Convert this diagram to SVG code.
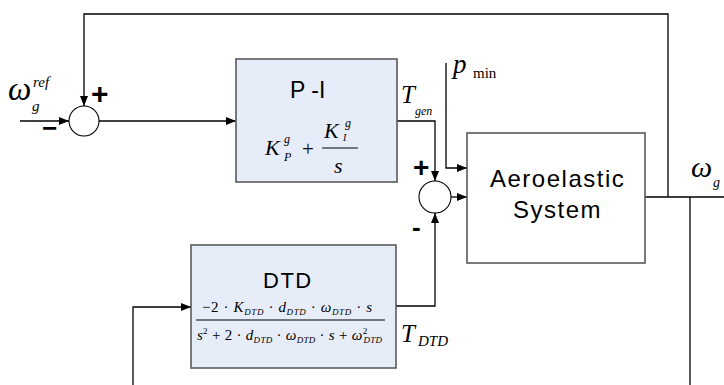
<svg xmlns="http://www.w3.org/2000/svg" width="724" height="385" viewBox="0 0 724 385">
<style>
.box{fill:#e7edf8;stroke:#5a5a5a;stroke-width:1.6}
.wbox{fill:#ffffff;stroke:#5a5a5a;stroke-width:1.6}
.sum{fill:#ffffff;stroke:#000;stroke-width:1.1}
.ln{fill:none;stroke:#000;stroke-width:1.3}
.sans{font-family:"Liberation Sans",Arial,sans-serif;fill:#000}
.ser{font-family:"Liberation Serif","Times New Roman",serif;fill:#000}
.it{font-style:italic}
.sign{font-family:"Liberation Sans",Arial,sans-serif;font-weight:bold;fill:#000}
</style>
<defs>
<marker id="ah" markerUnits="userSpaceOnUse" markerWidth="10" markerHeight="8" refX="10" refY="4" orient="auto">
<path d="M0,0 L10,4 L0,8 z" fill="#000"/>
</marker>
</defs>
<rect width="724" height="385" fill="#fff"/>

<g id="connectors">
<path class="ln" d="M668,197 L668,14 L84,14 L84,106" marker-end="url(#ah)"/>
<path class="ln" d="M20,121 L69,121" marker-end="url(#ah)"/>
<path class="ln" d="M99,121 L236,121" marker-end="url(#ah)"/>
<path class="ln" d="M397,121 L435,121 L435,181" marker-end="url(#ah)"/>
<path class="ln" d="M446,63 L446,168 L467,168" marker-end="url(#ah)"/>
<path class="ln" d="M451,197 L467,197" marker-end="url(#ah)"/>
<path class="ln" d="M645,197 L724,197"/>
<path class="ln" d="M690,197 L690,385"/>
<path class="ln" d="M396,306 L435,306 L435,213" marker-end="url(#ah)"/>
<path class="ln" d="M133,385 L133,307 L191,307" marker-end="url(#ah)"/>
</g>

<g id="sum1">
<circle class="sum" cx="84" cy="121" r="15"/>
<text class="sign" x="91" y="104" font-size="30">+</text>
<text class="sign" x="42" y="137" font-size="26">−</text>
</g>

<g id="sum2">
<circle class="sum" cx="435" cy="197" r="16"/>
<text class="sign" x="413" y="177" font-size="28">+</text>
<text class="sign" x="412" y="236" font-size="26">-</text>
</g>

<g id="input-label">
<text class="ser it" x="8" y="100" font-size="33">ω</text>
<text class="ser it" x="33" y="87" font-size="15">ref</text>
<text class="ser it" x="32" y="111" font-size="15">g</text>
</g>

<g id="pi">
<rect class="box" x="236" y="59" width="161" height="123"/>
<text class="sans" x="290" y="98" font-size="23">P -I</text>
<text class="ser it" x="265" y="155" font-size="22">K</text>
<text class="ser it" x="284" y="143" font-size="12">g</text>
<text class="ser it" x="284" y="161" font-size="12">P</text>
<text class="ser" x="302" y="156" font-size="21">+</text>
<line x1="322" y1="148" x2="358" y2="148" stroke="#000" stroke-width="1.2"/>
<text class="ser it" x="324" y="138" font-size="22">K</text>
<text class="ser it" x="345" y="127" font-size="12">g</text>
<text class="ser it" x="343" y="141" font-size="10">I</text>
<text class="ser it" x="334" y="173" font-size="22">s</text>
</g>

<g id="tgen-label">
<text class="ser it" x="401" y="103" font-size="25">T</text>
<text class="ser it" x="415" y="115" font-size="12">gen</text>
</g>

<g id="pmin-label">
<text class="ser it" x="453" y="73" font-size="27">p</text>
<text class="ser" x="473" y="78" font-size="15">min</text>
</g>

<g id="aero">
<rect class="wbox" x="467" y="133" width="178" height="130"/>
<text class="sans" x="490" y="187" font-size="24" letter-spacing="1.5">Aeroelastic</text>
<text class="sans" x="513" y="218" font-size="24" letter-spacing="1.5">System</text>
</g>

<g id="output-label">
<text class="ser it" x="691" y="177" font-size="30">ω</text>
<text class="ser it" x="713" y="187" font-size="14">g</text>
</g>

<g id="dtd">
<rect class="box" x="191" y="245" width="205" height="123"/>
<text class="sans" x="263" y="288" font-size="22" letter-spacing="1.5">DTD</text>
<text class="ser" x="202" y="312" font-size="15" textLength="170" lengthAdjust="spacing">−2 · <tspan class="it">K</tspan><tspan class="it" font-size="9" dy="3">DTD</tspan><tspan dy="-3"> · </tspan><tspan class="it">d</tspan><tspan class="it" font-size="9" dy="3">DTD</tspan><tspan dy="-3"> · </tspan><tspan class="it">ω</tspan><tspan class="it" font-size="9" dy="3">DTD</tspan><tspan dy="-3"> · </tspan><tspan class="it">s</tspan></text>
<line x1="196" y1="320" x2="385" y2="320" stroke="#000" stroke-width="1.2"/>
<text class="ser" x="197" y="340" font-size="15" textLength="185" lengthAdjust="spacing"><tspan class="it">s</tspan><tspan font-size="9" dy="-6">2</tspan><tspan dy="6"> + 2 · </tspan><tspan class="it">d</tspan><tspan class="it" font-size="9" dy="3">DTD</tspan><tspan dy="-3"> · </tspan><tspan class="it">ω</tspan><tspan class="it" font-size="9" dy="3">DTD</tspan><tspan dy="-3"> · </tspan><tspan class="it">s</tspan><tspan> + </tspan><tspan class="it">ω</tspan><tspan font-size="9" dy="-6">2</tspan><tspan class="it" font-size="9" dx="-4" dy="9">DTD</tspan></text>
</g>

<g id="tdtd-label">
<text class="ser it" x="401" y="342" font-size="25">T</text>
<text class="ser it" x="418" y="346" font-size="15">DTD</text>
</g>
</svg>
